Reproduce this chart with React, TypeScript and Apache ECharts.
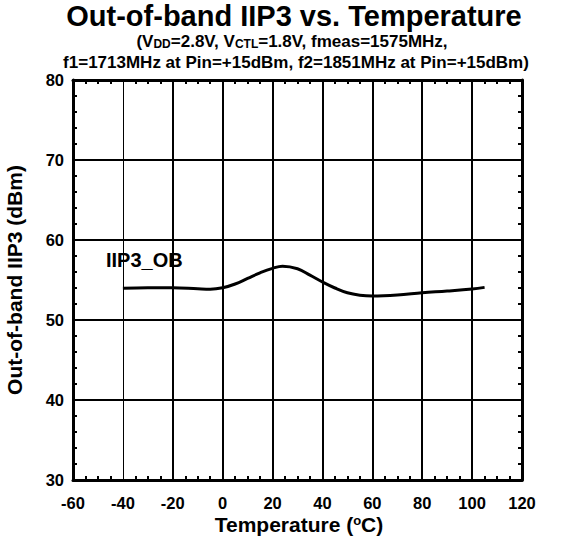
import React, { useEffect, useRef } from "react";
import * as echarts from "echarts";

const temps = [-40, -30, -20, -10, -5, 0, 5, 10, 15, 20, 24, 30, 35, 40, 45, 50, 55, 60, 70, 80, 90, 100, 105];
const iip3 = [53.96, 54.02, 54.03, 53.9, 53.85, 54.03, 54.5, 55.2, 55.9, 56.46, 56.72, 56.4, 55.6, 54.75, 54.0, 53.4, 53.1, 53.0, 53.12, 53.4, 53.62, 53.88, 54.08];
const xGrid = [-40, -20, 0, 20, 40, 60, 80, 100];
const xGridWidths = [1, 2, 2, 2, 2, 2, 2, 2];

const FONT = "'Liberation Sans', Arial, sans-serif";

export default function App() {
  const ref = useRef<HTMLDivElement>(null);
  useEffect(() => {
    if (!ref.current) return;
    const chart = echarts.init(ref.current, undefined, { renderer: "svg" });
    const axisLine = { show: true, onZero: false, lineStyle: { color: "#000", width: 3 } };
    const common = {
      axisLine,
      axisTick: { show: false, inside: true },
      axisLabel: { show: false },
      splitLine: { show: false },
    };
    chart.setOption({
      animation: false,
      backgroundColor: "#fff",
      grid: { left: 73, top: 80, right: 41, bottom: 60, containLabel: false },
      xAxis: [
        {
          type: "value", position: "bottom", min: -60, max: 120, interval: 20,
          ...common,
          axisLabel: { show: true, color: "#000", fontFamily: FONT, fontWeight: "bold", fontSize: 16.5, margin: 14 },
          minorTick: { show: true, splitNumber: 4, length: 4, lineStyle: { color: "#000", width: 2 } },
        },
        {
          type: "value", position: "top", min: -60, max: 120, interval: 20,
          ...common,
          minorTick: { show: true, splitNumber: 4, length: 4, lineStyle: { color: "#000", width: 2 } },
        },
      ],
      yAxis: [
        {
          type: "value", position: "left", min: 30, max: 80, interval: 10,
          ...common,
          axisLabel: { show: true, color: "#000", fontFamily: FONT, fontWeight: "bold", fontSize: 16.5, margin: 9 },
          splitLine: { show: true, lineStyle: { color: "#000", width: 2 } },
          minorTick: { show: true, splitNumber: 5, length: 4, lineStyle: { color: "#000", width: 2 } },
        },
        {
          type: "value", position: "right", min: 30, max: 80, interval: 10,
          ...common,
          minorTick: { show: true, splitNumber: 5, length: 4, lineStyle: { color: "#000", width: 2 } },
        },
      ],
      series: [
        {
          type: "line",
          data: temps.map((t, i) => [t, iip3[i]]),
          smooth: 0.4,
          showSymbol: false,
          lineStyle: { color: "#000", width: 3 },
          z: 5,
          markLine: {
            silent: true,
            symbol: "none",
            label: { show: false },
            data: xGrid.map((v, i) => ({ xAxis: v, lineStyle: { color: "#000", width: xGridWidths[i], type: "solid" } })),
          },
        },
      ],
      graphic: [
        {
          type: "text", x: 294, y: 16,
          style: { text: "Out-of-band IIP3 vs. Temperature", fill: "#000", font: `bold 29px ${FONT}`, align: "center", verticalAlign: "middle" },
        },
        {
          type: "text", x: 292, y: 41,
          style: {
            text: "(V{sub|DD}=2.8V, V{sub|CTL}=1.8V, fmeas=1575MHz,",
            fill: "#000", font: `bold 17px ${FONT}`, align: "center", verticalAlign: "middle",
            rich: { sub: { fontSize: 12, fontWeight: "bold", fontFamily: FONT, fill: "#000", verticalAlign: "bottom" } },
          },
        },
        {
          type: "text", x: 296, y: 62,
          style: { text: "f1=1713MHz at Pin=+15dBm, f2=1851MHz at Pin=+15dBm)", fill: "#000", font: `bold 17px ${FONT}`, align: "center", verticalAlign: "middle" },
        },
        {
          type: "text", x: 106, y: 260,
          style: { text: "IIP3_OB", fill: "#000", font: `bold 20px ${FONT}`, align: "left", verticalAlign: "middle" },
        },
        {
          type: "text", x: 14, y: 280, rotation: Math.PI / 2,
          style: { text: "Out-of-band IIP3 (dBm)", fill: "#000", font: `bold 21px ${FONT}`, align: "center", verticalAlign: "middle" },
        },
        {
          type: "text", x: 299, y: 524,
          style: {
            text: "Temperature ({sup|o}C)",
            fill: "#000", font: `bold 21px ${FONT}`, align: "center", verticalAlign: "middle",
            rich: { sup: { fontSize: 13, fontWeight: "bold", fontFamily: FONT, fill: "#000", verticalAlign: "top" } },
          },
        },
      ],
    });
    return () => chart.dispose();
  }, []);
  return <div ref={ref} style={{ position: "fixed", left: 0, top: 0, width: 563, height: 540 }} />;
}
